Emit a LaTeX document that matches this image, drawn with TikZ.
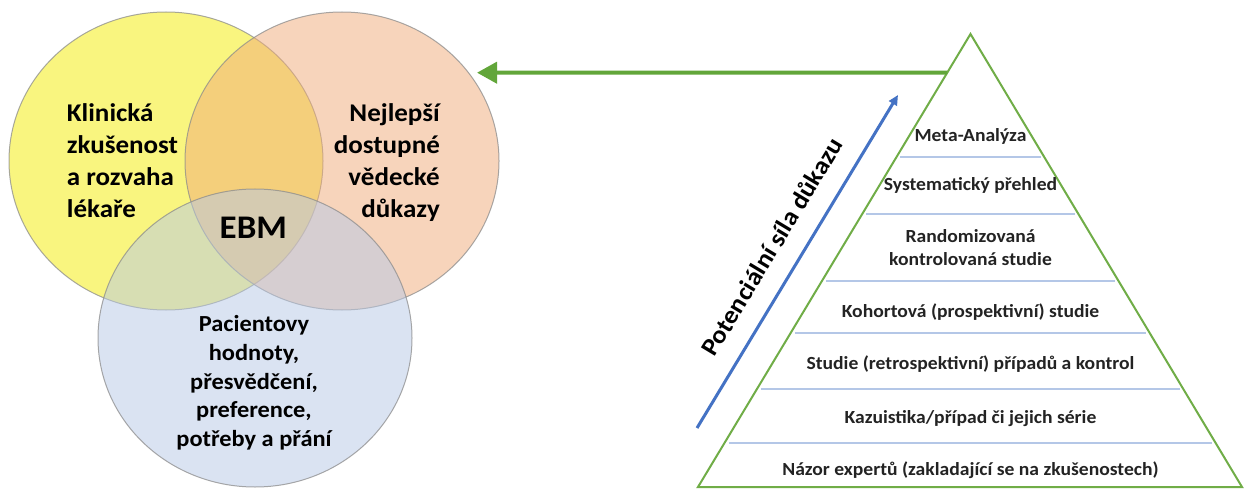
\documentclass[tikz,border=0pt]{standalone}
\usepackage{fontspec}
\setmainfont{Carlito}[FakeStretch=1.06]
\usetikzlibrary{arrows.meta,shapes.geometric,calc}
\definecolor{yelbase}{RGB}{245,237,0}
\definecolor{orabase}{RGB}{241,171,121}
\definecolor{blubase}{RGB}{183,201,231}
\definecolor{vennline}{RGB}{140,140,140}
\definecolor{pgreen}{RGB}{112,173,71}
\definecolor{agreen}{RGB}{98,166,58}
\definecolor{sepblue}{RGB}{180,199,231}
\definecolor{ablue}{RGB}{68,114,196}
\definecolor{ptext}{RGB}{35,35,35}
\begin{document}
\begin{tikzpicture}[x=1pt,y=-1pt,
  venn/.style={ellipse, inner sep=0pt, minimum width=314pt, minimum height=298pt,
    fill opacity=0.5, draw=vennline, draw opacity=0.75, line width=1pt},
  venntext/.style={inner sep=0pt, font=\fontsize{25.5}{32.3}\selectfont\bfseries, text=black},
  pattext/.style={inner sep=0pt, align=center, font=\fontsize{23}{28.75}\selectfont\bfseries, text=black},
  ebmtext/.style={inner sep=0pt, font=\fontsize{33}{36}\selectfont\bfseries, text=black},
  pyrtext/.style={inner sep=0pt, anchor=base, align=center, font=\fontsize{18.5}{23.5}\selectfont\bfseries, text=ptext},
  pyr/.style={draw=pgreen, line width=2pt, line join=miter},
  sepline/.style={draw=sepblue, line width=2pt},
  garrow/.style={draw=agreen, line width=4pt, -{Triangle[length=20pt,width=21pt]}},
  barrow/.style={draw=ablue, line width=3pt, -{Triangle[length=10pt,width=9pt]}},
  sidetext/.style={inner sep=0pt, font=\fontsize{25}{28}\selectfont\bfseries, text=black}
]
\useasboundingbox (0,0) rectangle (1247,489);
\fill[white] (0,0) rectangle (1247,489);

% Venn diagram
\node[venn, fill=yelbase] (yel) at (166,161) {};
\node[venn, fill=orabase] (ora) at (342,161) {};
\node[venn, fill=blubase] (blu) at (255,338) {};

% (base anchor of a multi-line node = baseline of its last line)
\node[venntext, anchor=base west, align=left] (klin) at (66.7,218)
  {Klinická\\zkušenost\\a rozvaha\\lékaře};
\node[venntext, anchor=base east, align=right] (nejl) at (440,218)
  {Nejlepší\\dostupné\\vědecké\\důkazy};
\node[ebmtext, anchor=base] (ebm) at (253.3,238.3) {EBM};
\node[pattext, anchor=base] (pac) at (254,446.7)
  {Pacientovy\\hodnoty,\\přesvědčení,\\preference,\\potřeby a přání};

% Pyramid
\coordinate (apex) at (970.5,34);
\coordinate (bl) at (698,487);
\coordinate (br) at (1242,487);
\draw[pyr] (apex) -- (bl) -- (br) -- cycle;
\foreach \yy in {157.3,214,280.7,333.3,389.3,443.3}{
  \draw[sepline] ({970.5-0.6004*(\yy-34)+4},\yy) -- ({970.5+0.6004*(\yy-34)-4},\yy);
}
\node[pyrtext] (l1) at (970.5,141.5) {Meta-Analýza};
\node[pyrtext] (l2) at (970.5,190.5) {Systematický přehled};
\node[pyrtext] (l3) at (970.5,265.5) {Randomizovaná\\kontrolovaná studie};
\node[pyrtext] (l4) at (970.5,317) {Kohortová (prospektivní) studie};
\node[pyrtext] (l5) at (970.5,369.5) {Studie (retrospektivní) případů a kontrol};
\node[pyrtext] (l6) at (970.5,423) {Kazuistika/případ či jejich série};
\node[pyrtext] (l7) at (970.5,475.5) {Názor expertů (zakladající se na zkušenostech)};

% Green arrow from pyramid to evidence circle
\coordinate (gstart) at ($(apex)!0.0854!(bl)$);
\coordinate (gtip) at (477,72.7);
\draw[garrow] (gstart) -- (gtip);

% Blue arrow with label
\coordinate (bstart) at (697,428);
\coordinate (bend) at (898,95);
\draw[barrow] (bstart) -- (bend);
\node[sidetext, rotate=58.9] (sila) at (771.6,246.5) {Potenciální síla důkazu};
\end{tikzpicture}
\end{document}
